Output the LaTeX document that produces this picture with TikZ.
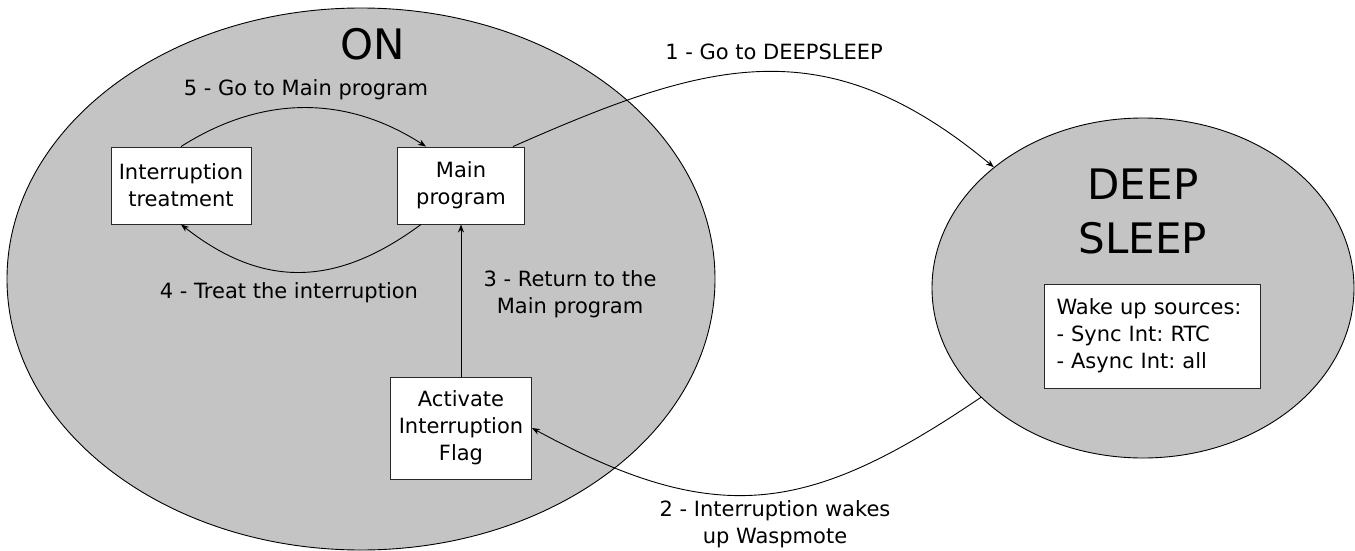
\documentclass[tikz,border=0pt]{standalone}
\usepackage{fontspec}
\setmainfont{DejaVu Sans}
\usetikzlibrary{shapes.geometric,arrows.meta}
\definecolor{stategray}{RGB}{196,196,196}
\definecolor{edgegray}{RGB}{40,40,40}
\frenchspacing
\begin{document}
\begin{tikzpicture}[x=1pt,y=-1pt,
  statebg/.style={ellipse, draw=black, fill=stategray, line width=0.9pt, inner sep=0pt},
  box/.style={draw=edgegray, fill=white, line width=0.9pt, align=center, inner sep=0pt, font=\fontsize{21}{27}\selectfont},
  lbl/.style={align=center, inner sep=0pt, font=\fontsize{21}{27}\selectfont},
  title/.style={align=center, inner sep=0pt, font=\fontsize{42}{54}\selectfont},
  arr/.style={line width=0.9pt, -{Stealth[length=8pt,width=6pt,inset=2.5pt]}}]
\useasboundingbox (0,0) rectangle (1355,551);
\node[statebg, minimum width=708pt, minimum height=542pt] (on) at (361,279) {};
\node[statebg, minimum width=422pt, minimum height=340pt] (ds) at (1143,288) {};
\node[title] (ontitle) at (373,44) {ON};
\node[title] (dstitle) at (1143,211) {DEEP\\SLEEP};
\node[box, minimum width=127pt, minimum height=77pt] (mp) at (461,185.5) {Main\\program};
\node[box, minimum width=140pt, minimum height=77pt] (it) at (181,185.5) {Interruption\\treatment};
\node[box, minimum width=141pt, minimum height=102pt] (af) at (461,428) {Activate\\Interruption\\Flag};
\node[box, align=left, text width=192pt, inner xsep=12pt, minimum height=104pt] (wu) at (1152.5,336) {Wake up sources:\\- Sync Int: RTC\\- Async Int: all};
% arrows
\draw[arr] (it.north) .. controls (262,95) and (346,95) .. ([xshift=-35pt]mp.north);
\draw[arr] ([xshift=-40pt]mp.south) .. controls (335,288) and (262,288) .. (it.south);
\draw[arr] (af.north) -- (mp.south);
\draw[arr] ([xshift=52pt]mp.north) .. controls (709,60) and (825,27) .. (ds.141);
\draw[arr] (ds.214) .. controls (809,514) and (718,529) .. (af.east);
% labels
\node[lbl] (l1) at (774,52) {1 - Go to DEEPSLEEP};
\node[lbl] (l2) at (775,524) {2 - Interruption wakes\\up Waspmote};
\node[lbl] (l3) at (570,294) {3 - Return to the\\Main program};
\node[lbl] (l4) at (289,293) {4 - Treat the interruption};
\node[lbl] (l5) at (306,90) {5 - Go to Main program};
\end{tikzpicture}
\end{document}
